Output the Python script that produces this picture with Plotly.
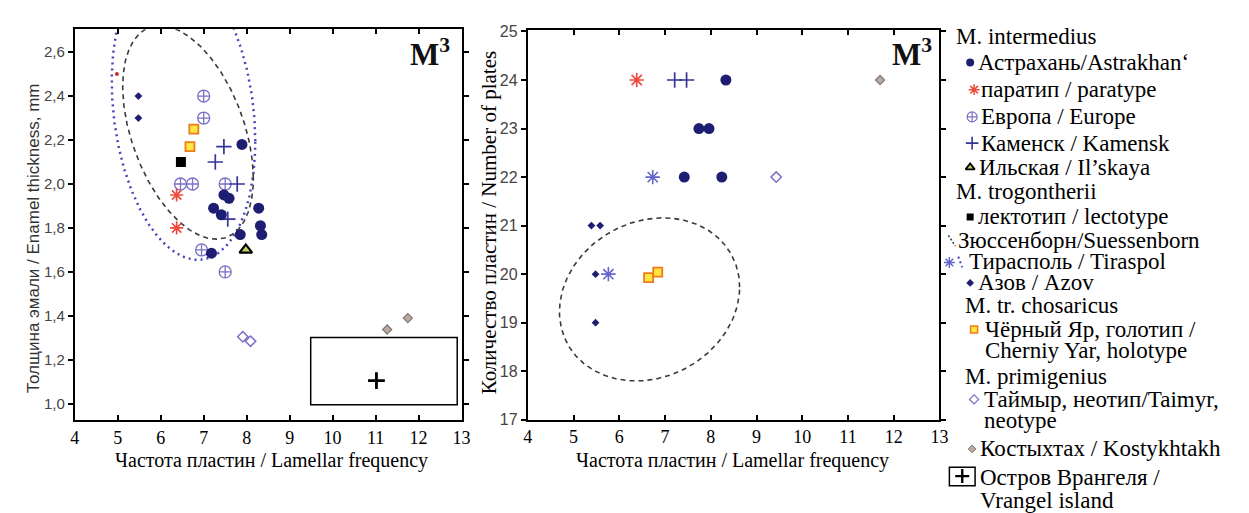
import numpy as np
import plotly.graph_objects as go

W, H = 1249, 513

# ---------------- data : left panel (lamellar frequency vs enamel thickness) ----------------
astr_L_x = [7.89, 7.47, 7.59, 7.23, 7.41, 8.28, 8.32, 8.35, 7.85, 7.18]
astr_L_y = [2.18, 1.95, 1.935, 1.89, 1.86, 1.89, 1.81, 1.77, 1.77, 1.685]
para_L_x = [6.37, 6.37]
para_L_y = [1.95, 1.80]
para_small_L_x = [4.98]
para_small_L_y = [2.50]
europe_L_x = [7.0, 7.0, 6.46, 6.74, 7.5, 6.95, 7.5]
europe_L_y = [2.40, 2.30, 2.00, 2.00, 2.00, 1.70, 1.60]
kamensk_L_x = [7.47, 7.27, 7.78, 7.56]
kamensk_L_y = [2.17, 2.10, 2.00, 1.84]
ilsk_L_x = [7.98]
ilsk_L_y = [1.70]
lecto_L_x = [6.47]
lecto_L_y = [2.10]
azov_L_x = [5.48, 5.48]
azov_L_y = [2.40, 2.30]
cherniy_L_x = [6.77, 6.68]
cherniy_L_y = [2.25, 2.17]
taimyr_L_x = [7.91, 8.09]
taimyr_L_y = [1.305, 1.285]
kost_L_x = [11.27, 11.75]
kost_L_y = [1.338, 1.39]
vrangel_L_x = [11.02]
vrangel_L_y = [1.105]
vrangel_range_x = [9.49, 12.90]
vrangel_range_y = [0.996, 1.302]
# ellipses: [centre x, centre y, half-extent x, half-extent y, correlation]
suess_ellipse_L = [6.635, 2.235, 1.52, 0.486, -0.43]
tirasp_ellipse_L = [6.53, 2.33, 1.67, 0.675, -0.20]

# ---------------- data : right panel (lamellar frequency vs number of plates) ----------------
astr_R_x = [8.33, 7.74, 7.96, 7.42, 8.24]
astr_R_y = [24, 23, 23, 22, 22]
para_R_x = [6.38]
para_R_y = [24]
kamensk_R_x = [7.21, 7.47]
kamensk_R_y = [24, 24]
tirasp_R_x = [6.73, 5.76]
tirasp_R_y = [22, 20]
taimyr_R_x = [9.43]
taimyr_R_y = [22]
kost_R_x = [11.7]
kost_R_y = [24]
azov_R_x = [5.39, 5.58, 5.48, 5.48]
azov_R_y = [21, 21, 20, 19]
cherniy_R_x = [6.64, 6.84]
cherniy_R_y = [19.93, 20.04]
suess_ellipse_R = [6.66, 19.48, 1.97, 1.68, 0.15]

# ticks
x_ticks = list(range(4, 14))
yL_ticks = [1.0, 1.2, 1.4, 1.6, 1.8, 2.0, 2.2, 2.4, 2.6]
yL_ticktext = ["1,0", "1,2", "1,4", "1,6", "1,8", "2,0", "2,2", "2,4", "2,6"]
yR_ticks = list(range(17, 26))

# ---------------- styles ----------------
NAVY = "#1d1d72"
RED = "#ee4a3c"
LAV = "#7a70c4"
KAM = "#34349a"
TIR = "#6464cc"
DOT = "#4646b8"
SERIF = "Liberation Serif"
SANS = "Liberation Sans"


def ellipse(p, n=361):
    cx, cy, sx, sy, r = p
    t = np.linspace(0, 2 * np.pi, n)
    phi = np.arccos(r)
    return cx + sx * np.cos(t), cy + sy * np.cos(t - phi)


fig = go.Figure()


def pts(x, y, xa, ya, **marker):
    fig.add_trace(go.Scatter(x=x, y=y, xaxis=xa, yaxis=ya, mode="markers",
                             marker=marker, showlegend=False, hoverinfo="skip"))


def curve(x, y, xa, ya, color, dash, width):
    fig.add_trace(go.Scatter(x=x, y=y, xaxis=xa, yaxis=ya, mode="lines",
                             line=dict(color=color, dash=dash, width=width),
                             showlegend=False, hoverinfo="skip"))


# ---- left panel ----
ex, ey = ellipse(tirasp_ellipse_L)
curve(ex, ey, "x", "y", DOT, "2px,4px", 2.5)
ex, ey = ellipse(suess_ellipse_L)
curve(ex, ey, "x", "y", "#3a3a3a", "5px,4px", 1.6)

pts(azov_L_x, azov_L_y, "x", "y", symbol="diamond", size=6, color=NAVY)
pts(europe_L_x, europe_L_y, "x", "y", symbol="circle-cross-open", size=12, color=LAV, line=dict(width=1.3))
pts(kamensk_L_x, kamensk_L_y, "x", "y", symbol="cross-thin-open", size=11, color=KAM, line=dict(width=1.7))
pts(para_L_x, para_L_y, "x", "y", symbol="asterisk-open", size=11, color=RED, line=dict(width=1.7))
pts(para_small_L_x, para_small_L_y, "x", "y", symbol="circle", size=4, color="#c83030")
pts(cherniy_L_x, cherniy_L_y, "x", "y", symbol="square", size=9, color="#ffe640", line=dict(width=1.8, color="#f07a1e"))
pts(lecto_L_x, lecto_L_y, "x", "y", symbol="square", size=10, color="black")
pts(astr_L_x, astr_L_y, "x", "y", symbol="circle", size=11, color=NAVY)
pts(ilsk_L_x, ilsk_L_y, "x", "y", symbol="triangle-up", size=11, color="#c8d060", line=dict(width=2.2, color="black"))
pts(taimyr_L_x, taimyr_L_y, "x", "y", symbol="diamond-open", size=8, color=LAV, line=dict(width=1.5))
pts(kost_L_x, kost_L_y, "x", "y", symbol="diamond", size=7, color="#b8aaa2", line=dict(width=1.2, color="#857870"))
pts(vrangel_L_x, vrangel_L_y, "x", "y", symbol="cross-thin-open", size=12, color="black", line=dict(width=2.8))

# ---- right panel ----
ex, ey = ellipse(suess_ellipse_R)
curve(ex, ey, "x2", "y2", "#3a3a3a", "5px,4px", 1.6)
pts(azov_R_x, azov_R_y, "x2", "y2", symbol="diamond", size=6, color=NAVY)
pts(tirasp_R_x, tirasp_R_y, "x2", "y2", symbol="asterisk-open", size=12, color=TIR, line=dict(width=1.6))
pts(cherniy_R_x, cherniy_R_y, "x2", "y2", symbol="square", size=9, color="#ffe640", line=dict(width=1.8, color="#f07a1e"))
pts(para_R_x, para_R_y, "x2", "y2", symbol="asterisk-open", size=12, color=RED, line=dict(width=1.7))
pts(kamensk_R_x, kamensk_R_y, "x2", "y2", symbol="cross-thin-open", size=11, color=KAM, line=dict(width=1.7))
pts(astr_R_x, astr_R_y, "x2", "y2", symbol="circle", size=11, color=NAVY)
pts(taimyr_R_x, taimyr_R_y, "x2", "y2", symbol="diamond-open", size=8, color=LAV, line=dict(width=1.5))
pts(kost_R_x, kost_R_y, "x2", "y2", symbol="diamond", size=7, color="#b8aaa2", line=dict(width=1.2, color="#857870"))

# ---- legend keys (pixel-space helper axis) ----
pts([968], [50], "x3", "y3", symbol="circle", size=8, color=NAVY)
pts([972], [78], "x3", "y3", symbol="asterisk-open", size=9, color=RED, line=dict(width=1.5))
pts([970], [106], "x3", "y3", symbol="circle-cross-open", size=10, color=LAV, line=dict(width=1.2))
pts([970], [133], "x3", "y3", symbol="cross-thin-open", size=9, color=KAM, line=dict(width=1.6))
pts([968], [158], "x3", "y3", symbol="triangle-up", size=8, color="#c8d060", line=dict(width=1.8, color="black"))
pts([968], [209], "x3", "y3", symbol="square", size=7, color="black")
curve([946, 953], [228, 239], "x3", "y3", "#3a3a3a", "2px,2px", 1.5)
pts([947], [256], "x3", "y3", symbol="asterisk-open", size=9, color=TIR, line=dict(width=1.4))
curve([956, 960], [250, 261], "x3", "y3", DOT, "2px,3px", 2)
pts([968], [277], "x3", "y3", symbol="diamond", size=6, color=NAVY)
pts([972], [325], "x3", "y3", symbol="square", size=7, color="#ffe640", line=dict(width=1.5, color="#f07a1e"))
pts([972], [397], "x3", "y3", symbol="diamond-open", size=7, color=LAV, line=dict(width=1.3))
pts([970], [448], "x3", "y3", symbol="diamond", size=6, color="#b8aaa2", line=dict(width=1, color="#857870"))
pts([960], [476], "x3", "y3", symbol="cross-thin-open", size=10, color="black", line=dict(width=2.4))

legend_lines = [
    ("M. intermedius", 953, 23),
    ("Астрахань/Astrakhan‘", 975, 50),
    ("паратип / paratype", 978, 78),
    ("Европа / Europe", 978, 106),
    ("Каменск / Kamensk", 978, 133),
    ("Ильская / Il’skaya", 976, 158),
    ("M. trogontherii", 953, 183),
    ("лектотип / lectotype", 975, 209),
    ("Зюссенборн/Suessenborn", 955, 233),
    ("Тирасполь / Tiraspol", 966, 255),
    ("Азов / Azov", 975, 277),
    ("M. tr. chosaricus", 962, 300),
    ("Чёрный Яр, голотип /", 982, 325),
    ("Cherniy Yar, holotype", 982, 347),
    ("M. primigenius", 962, 373),
    ("Таймыр, неотип/Taimyr,", 981, 397),
    ("neotype", 981, 419),
    ("Костыхтах / Kostykhtakh", 977, 448),
    ("Остров Врангеля /", 977, 477),
    ("Vrangel island", 977, 501),
]

annotations = []
for txt, px, py in legend_lines:
    annotations.append(dict(text=txt, x=px / W, y=1 - py / H, xref="paper", yref="paper",
                            xanchor="left", yanchor="middle", showarrow=False, borderpad=0,
                            font=dict(family=SERIF, size=23, color="black")))

# axis titles
annotations += [
    dict(text="Частота пластин / Lamellar frequency", x=261 / W, y=1 - 460 / H,
         xref="paper", yref="paper", showarrow=False, xanchor="center", yanchor="middle",
         font=dict(family=SERIF, size=20, color="black")),
    dict(text="Частота пластин / Lamellar frequency", x=728 / W, y=1 - 460 / H,
         xref="paper", yref="paper", showarrow=False, xanchor="center", yanchor="middle",
         font=dict(family=SERIF, size=20, color="black")),
    dict(text="Толщина эмали / Enamel thickness, mm", x=20 / W, y=1 - 231 / H,
         xref="paper", yref="paper", showarrow=False, xanchor="center", yanchor="middle",
         textangle=-90, font=dict(family=SANS, size=17, color="#333")),
    dict(text="Количество пластин / Number of plates", x=481 / W, y=1 - 215 / H,
         xref="paper", yref="paper", showarrow=False, xanchor="center", yanchor="middle",
         textangle=-90, font=dict(family=SERIF, size=21, color="black")),
    dict(text="<b>M<sup>3</sup></b>", x=444 / W, y=1 - 40 / H, xref="paper", yref="paper",
         showarrow=False, xanchor="right", yanchor="middle",
         font=dict(family=SERIF, size=31, color="#111")),
    dict(text="<b>M<sup>3</sup></b>", x=931 / W, y=1 - 40 / H, xref="paper", yref="paper",
         showarrow=False, xanchor="right", yanchor="middle",
         font=dict(family=SERIF, size=31, color="#111")),
]

shapes = [
    dict(type="rect", xref="x", yref="y", x0=vrangel_range_x[0], x1=vrangel_range_x[1],
         y0=vrangel_range_y[0], y1=vrangel_range_y[1], line=dict(color="black", width=1.5)),
    dict(type="rect", xref="paper", yref="paper", x0=947 / W, x1=973 / W,
         y0=1 - 486 / H, y1=1 - 467 / H, line=dict(color="black", width=1.5)),
]

frame = dict(showline=True, linecolor="black", linewidth=2, mirror="ticks", showgrid=False,
             zeroline=False, ticklen=5, tickwidth=1.5, tickcolor="black")

fig.update_layout(
    width=W, height=H,
    margin=dict(l=0, r=0, t=0, b=0),
    paper_bgcolor="white", plot_bgcolor="rgba(0,0,0,0)",
    showlegend=False,
    xaxis=dict(frame, domain=[62.5 / W, 453.6 / W], range=[4, 13], tickvals=x_ticks,
               ticks="inside", anchor="y",
               tickfont=dict(family=SERIF, size=18, color="black")),
    yaxis=dict(frame, domain=[1 - 418.3 / H, 1 - 15.7 / H], range=[0.926, 2.704],
               tickvals=yL_ticks, ticktext=yL_ticktext, ticks="outside", anchor="x",
               tickfont=dict(family=SANS, size=15, color="#444")),
    xaxis2=dict(frame, domain=[520.7 / W, 937 / W], range=[4, 13], tickvals=x_ticks,
                ticks="inside", anchor="y2",
                tickfont=dict(family=SERIF, size=18, color="black")),
    yaxis2=dict(frame, domain=[1 - 418 / H, 1 - 16 / H], range=[17, 25.04],
                tickvals=yR_ticks, ticks="outside", anchor="x2",
                tickfont=dict(family=SANS, size=16, color="#444")),
    xaxis3=dict(domain=[940 / W, 1], range=[940, 1249], visible=False, anchor="y3"),
    yaxis3=dict(domain=[0, 1], range=[513, 0], visible=False, anchor="x3"),
    annotations=annotations,
    shapes=shapes,
)

fig.write_html("out.html")
